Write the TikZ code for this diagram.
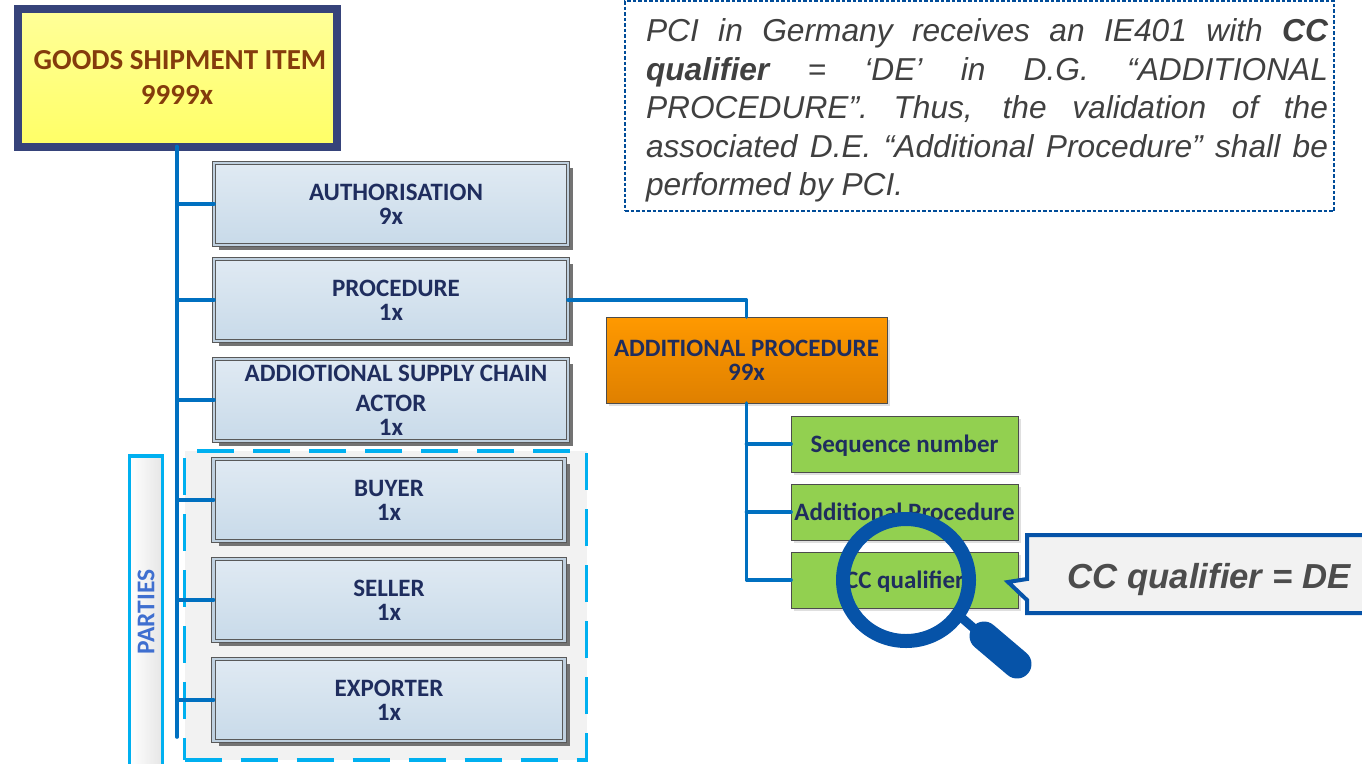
\documentclass[tikz,border=0pt]{standalone}
\usepackage{fontspec}
\setmainfont{Carlito}
\newfontfamily\notefont{Liberation Sans}
\usetikzlibrary{positioning}
\usetikzlibrary{shapes,shadows,arrows}
\definecolor{navytext}{HTML}{1F2D5E}
\definecolor{linkblue}{HTML}{0070C0}
\definecolor{partyblue}{HTML}{00B0F0}
\definecolor{partytext}{HTML}{3F6FD0}
\definecolor{lensblue}{HTML}{0653A8}
\definecolor{itemtop}{HTML}{E0EAF3}
\definecolor{itembottom}{HTML}{C8DAE9}
\definecolor{itemframe}{HTML}{BFD0DF}
\definecolor{goodsframe}{HTML}{36437A}
\definecolor{goodstext}{HTML}{843C0C}
\definecolor{fieldgreen}{HTML}{92D050}
\definecolor{orangetop}{HTML}{FF9900}
\definecolor{orangebottom}{HTML}{DF8000}

\begin{document}
\begin{tikzpicture}[x=1pt,y=-1pt,
  link/.style={linkblue,line width=3.6pt,line cap=round},
  itembox/.style={draw=black!65,double=itemframe,double distance=2.6pt,line width=0.9pt,
    top color=itemtop,bottom color=itembottom,minimum width=351pt,minimum height=82pt,
    inner sep=0pt,outer sep=0pt,text=navytext,align=center,font=\bfseries\fontsize{25}{24}\selectfont,
    drop shadow={shadow xshift=5pt,shadow yshift=-5pt,fill=black!55,opacity=1}},
  fieldbox/.style={draw=black!70,line width=0.9pt,fill=fieldgreen,minimum width=227pt,minimum height=56pt,
    inner sep=0pt,outer sep=0pt,text=navytext,text height=19pt,text depth=3pt,font=\bfseries\fontsize{25}{24}\selectfont,
    drop shadow={shadow xshift=3pt,shadow yshift=-3pt,fill=gray!25,opacity=1}}]
  \useasboundingbox (0,0) rectangle (1362,763);

  \node[fill=black!5,draw=partyblue,line width=3.6pt,dash pattern=on 37pt off 19pt,dash phase=56pt,minimum width=402pt,minimum height=309pt,inner sep=0pt] (partyarea) at (385.5,605.5) {};
  \node[draw=partyblue,line width=3.6pt,left color=white,right color=black!10,minimum width=33pt,minimum height=360pt,inner sep=0pt] (partybox) at (146,636) {};
  \node[rotate=90,text=partytext,font=\bfseries\fontsize{25.5}{26}\selectfont] (partylabel) at (146,612) {PARTIES};

  \node[draw=goodsframe,line width=8pt,top color=yellow!40!white,bottom color=yellow!60!white,minimum width=319pt,minimum height=138pt,inner sep=0pt,outer sep=0pt,
    align=center,text=goodstext,font=\bfseries\fontsize{29}{35}\selectfont,
    drop shadow={shadow xshift=2pt,shadow yshift=-2pt,fill=gray!25,opacity=1}] (goods) at (177,77.5) {\hspace*{6pt}GOODS SHIPMENT ITEM\\9999x};

  \node[itembox,minimum width=354pt] (auth) at (391,204) {\hspace*{10pt}AUTHORISATION\\9x};
  \node[itembox,minimum width=354pt] (proc) at (391,300) {\hspace*{10pt}PROCEDURE\\1x};
  \node[itembox,minimum width=354pt] (actor) at (391,400) {\hspace*{10pt}ADDIOTIONAL SUPPLY CHAIN\\[6pt]ACTOR\\1x};
  \node[itembox] (buyer) at (389,500) {BUYER\\1x};
  \node[itembox] (seller) at (389,600) {SELLER\\1x};
  \node[itembox] (exporter) at (389,700) {EXPORTER\\1x};

  \node[draw=black!70,line width=0.9pt,top color=orangetop,bottom color=orangebottom,minimum width=281pt,minimum height=86pt,inner sep=0pt,outer sep=0pt,
    align=center,text=navytext,font=\bfseries\fontsize{25}{24}\selectfont,
    drop shadow={shadow xshift=3pt,shadow yshift=-3pt,fill=gray!25,opacity=1}] (addproc) at (746.5,360) {ADDITIONAL PROCEDURE\\99x};

  \node[fieldbox] (seqnum) at (904.5,444) {Sequence number};
  \node[fieldbox] (addfield) at (904.5,512) {Additional Procedure};
  \node[fieldbox] (ccfield) at (904.5,580) {CC qualifier};

  \coordinate (trunkend) at (177,737);
  \draw[link] (goods.south) -- (trunkend);
  \draw[link] (auth.west -| goods.south) -- (auth.west);
  \draw[link] (proc.west -| goods.south) -- (proc.west);
  \draw[link] (actor.west -| goods.south) -- (actor.west);
  \draw[link] (buyer.west -| goods.south) -- (buyer.west);
  \draw[link] (seller.west -| goods.south) -- (seller.west);
  \draw[link] (exporter.west -| goods.south) -- (exporter.west);

  \draw[link,line join=round] (proc.east) -| (addproc.north);
  \draw[link,line join=round] (addproc.south) |- (ccfield.west);
  \draw[link] (seqnum.west -| addproc.south) -- (seqnum.west);
  \draw[link] (addfield.west -| addproc.south) -- (addfield.west);

  \draw[lensblue,line width=14pt] (906,580) ellipse (63 and 61);
  \draw[lensblue,line width=9pt] (962,618) -- (985,638);
  \draw[lensblue,line width=29pt,line cap=round] (984,636) -- (1017,664);

  \draw[lensblue,line width=4pt,fill=black!5,line join=miter] (1366,535) -- (1027,535) -- (1027,579) -- (1008,582) -- (1027,600) -- (1027,613) -- (1366,613);
  \node[text=black!70,font=\notefont\bfseries\itshape\fontsize{34.7}{36}\selectfont] (ccvalue) at (1209,580) {CC qualifier = DE};

  \node[draw=blue!50!cyan!60!black,line width=1.3pt,dash pattern=on 3.5pt off 2pt,minimum width=709pt,minimum height=210pt,inner sep=0pt] (notebox) at (979.5,106) {};
  \node[text width=682pt,align=justify,inner sep=0pt,text=black!75,font=\notefont\itshape\fontsize{31.7}{38.5}\selectfont] (notetext) at (987,110.5) {PCI in Germany receives an IE401 with \textbf{CC}\linebreak\textbf{qualifier} = ‘DE’ in D.G. “ADDITIONAL\linebreak PROCEDURE”. Thus, the validation of the\linebreak associated D.E. “Additional Procedure” shall be\linebreak performed by PCI.};
\end{tikzpicture}
\end{document}
